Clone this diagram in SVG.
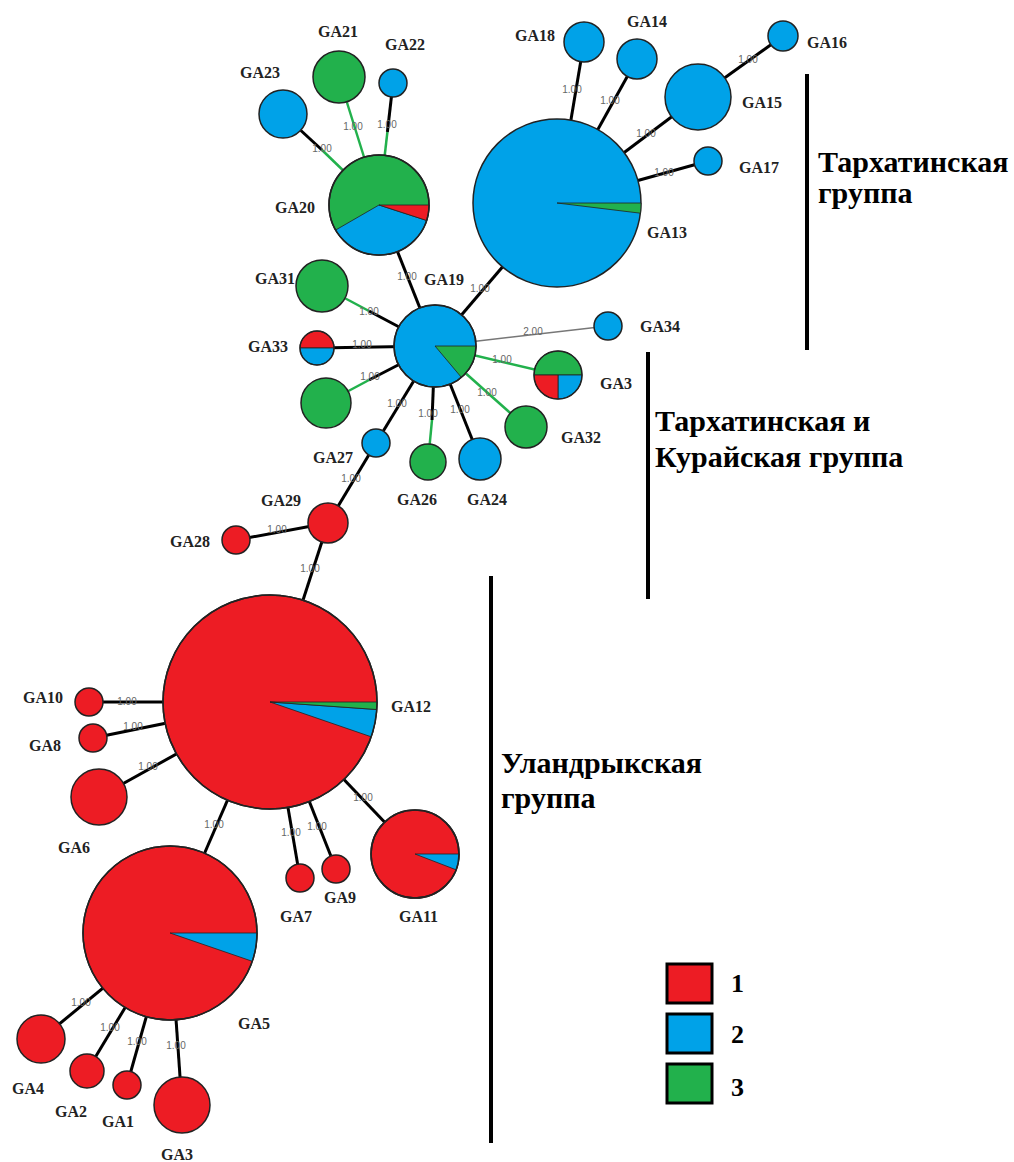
<svg xmlns="http://www.w3.org/2000/svg" width="1014" height="1162" viewBox="0 0 1014 1162">
<style>
.e{stroke:#000;stroke-width:3;fill:none}
.g{stroke:#22b14c;stroke-width:2.5;fill:none}
.t{stroke:#777;stroke-width:1.5;fill:none}
.el{font-family:"Liberation Sans",Arial,sans-serif;font-size:10px;fill:#666;text-anchor:middle}
.nl{font-family:"Liberation Serif","Times New Roman",serif;font-size:16px;font-weight:bold;fill:#222}
.gt{font-family:"Liberation Serif","Times New Roman",serif;font-size:30px;font-weight:bold;fill:#000}
.lg{font-family:"Liberation Serif","Times New Roman",serif;font-size:26px;font-weight:bold;fill:#000}
.r{fill:#ed1c24}.b{fill:#00a2e8}.gr{fill:#22b14c}
.o{stroke:#222;stroke-width:1.5}
.w{stroke:#222;stroke-width:0.8}
.bar{stroke:#000;stroke-width:4}
</style>
<rect width="1014" height="1162" fill="#fff"/>
<g id="connectors">
<line class="e" x1="557" y1="203" x2="584" y2="42"/>
<line class="e" x1="557" y1="203" x2="637" y2="59"/>
<line class="e" x1="557" y1="203" x2="698" y2="97"/>
<line class="e" x1="557" y1="203" x2="708" y2="161"/>
<line class="e" x1="698" y1="97" x2="783" y2="36"/>
<line class="e" x1="435" y1="346" x2="557" y2="203"/>
<line class="e" x1="435" y1="346" x2="379" y2="205"/>
<line class="g" x1="379" y1="205" x2="322" y2="150"/>
<line class="e" x1="322" y1="150" x2="283" y2="114"/>
<line class="g" x1="379" y1="205" x2="339" y2="77"/>
<line class="g" x1="379" y1="205" x2="387.4" y2="132"/>
<line class="e" x1="387.4" y1="132" x2="393" y2="83"/>
<line class="e" x1="435" y1="346" x2="369" y2="311"/>
<line class="g" x1="369" y1="311" x2="322" y2="286"/>
<line class="e" x1="435" y1="346" x2="317" y2="348"/>
<line class="e" x1="435" y1="346" x2="369" y2="380"/>
<line class="g" x1="369" y1="380" x2="326" y2="403"/>
<line class="e" x1="435" y1="346" x2="376" y2="443"/>
<line class="e" x1="435" y1="346" x2="432" y2="420"/>
<line class="g" x1="432" y1="420" x2="428" y2="462"/>
<line class="e" x1="435" y1="346" x2="480" y2="459"/>
<line class="g" x1="435" y1="346" x2="526" y2="427"/>
<line class="g" x1="435" y1="346" x2="558" y2="375"/>
<line class="t" x1="435" y1="346" x2="608" y2="326"/>
<line class="e" x1="376" y1="443" x2="328" y2="523"/>
<line class="e" x1="328" y1="523" x2="236" y2="540"/>
<line class="e" x1="328" y1="523" x2="270" y2="702"/>
<line class="e" x1="270" y1="702" x2="89" y2="702"/>
<line class="e" x1="270" y1="702" x2="93" y2="738"/>
<line class="e" x1="270" y1="702" x2="99" y2="797"/>
<line class="e" x1="270" y1="702" x2="170" y2="933"/>
<line class="e" x1="270" y1="702" x2="300" y2="878"/>
<line class="e" x1="270" y1="702" x2="336" y2="869"/>
<line class="e" x1="270" y1="702" x2="415" y2="854"/>
<line class="e" x1="170" y1="933" x2="41" y2="1039"/>
<line class="e" x1="170" y1="933" x2="87" y2="1071"/>
<line class="e" x1="170" y1="933" x2="127" y2="1085"/>
<line class="e" x1="170" y1="933" x2="182" y2="1105"/>
<g id="edge-labels">
<text class="el" x="572" y="93">1.00</text>
<text class="el" x="610" y="104">1.00</text>
<text class="el" x="646" y="137">1.00</text>
<text class="el" x="664" y="176">1.00</text>
<text class="el" x="748" y="63">1.00</text>
<text class="el" x="322" y="152">1.00</text>
<text class="el" x="353" y="130">1.00</text>
<text class="el" x="387" y="128">1.00</text>
<text class="el" x="407" y="280">1.00</text>
<text class="el" x="480" y="292">1.00</text>
<text class="el" x="369" y="315">1.00</text>
<text class="el" x="362" y="348">1.00</text>
<text class="el" x="370" y="380">1.00</text>
<text class="el" x="397" y="407">1.00</text>
<text class="el" x="428" y="417">1.00</text>
<text class="el" x="460" y="413">1.00</text>
<text class="el" x="487" y="396">1.00</text>
<text class="el" x="502" y="363">1.00</text>
<text class="el" x="533" y="335">2.00</text>
<text class="el" x="351" y="482">1.00</text>
<text class="el" x="277" y="533">1.00</text>
<text class="el" x="310" y="572">1.00</text>
<text class="el" x="127" y="705">1.00</text>
<text class="el" x="133" y="730">1.00</text>
<text class="el" x="148" y="770">1.00</text>
<text class="el" x="214" y="828">1.00</text>
<text class="el" x="291" y="836">1.00</text>
<text class="el" x="317" y="830">1.00</text>
<text class="el" x="363" y="801">1.00</text>
<text class="el" x="81" y="1006">1.00</text>
<text class="el" x="110" y="1031">1.00</text>
<text class="el" x="137" y="1045">1.00</text>
<text class="el" x="176" y="1049">1.00</text>
</g>
</g>
<g id="GA13"><circle class="b o" cx="557" cy="203" r="84"/><path class="gr w" d="M557,203 L641,203 A84,84 0 0 1 640.4,213.2 Z"/><text class="nl" x="647" y="238">GA13</text></g>
<g id="GA18"><circle class="b o" cx="584" cy="42" r="20"/><text class="nl" x="515" y="41">GA18</text></g>
<g id="GA14"><circle class="b o" cx="637" cy="59" r="20"/><text class="nl" x="627" y="27">GA14</text></g>
<g id="GA15"><circle class="b o" cx="698" cy="97" r="33"/><text class="nl" x="742" y="108">GA15</text></g>
<g id="GA16"><circle class="b o" cx="783" cy="36" r="15"/><text class="nl" x="807" y="48">GA16</text></g>
<g id="GA17"><circle class="b o" cx="708" cy="161" r="14"/><text class="nl" x="739" y="173">GA17</text></g>
<g id="GA20"><circle class="gr o" cx="379" cy="205" r="50"/><path class="b w" d="M379,205 L426.55,220.45 A50,50 0 0 1 335.7,230 Z"/><path class="r w" d="M379,205 L429,205 A50,50 0 0 1 426.55,220.45 Z"/><circle cx="379" cy="205" r="50" fill="none" class="o"/><text class="nl" x="275" y="213">GA20</text></g>
<g id="GA21"><circle class="gr o" cx="339" cy="77" r="26"/><text class="nl" x="318" y="37">GA21</text></g>
<g id="GA22"><circle class="b o" cx="393" cy="83" r="14"/><text class="nl" x="385" y="50">GA22</text></g>
<g id="GA23"><circle class="b o" cx="283" cy="114" r="24"/><text class="nl" x="240" y="78">GA23</text></g>
<g id="GA19"><circle class="b o" cx="435" cy="346" r="41"/><path class="gr w" d="M435,346 L476,346 A41,41 0 0 1 461.4,377.4 Z"/><circle cx="435" cy="346" r="41" fill="none" class="o"/><text class="nl" x="424" y="285">GA19</text></g>
<g id="GA31"><circle class="gr o" cx="322" cy="286" r="26"/><text class="nl" x="255" y="284">GA31</text></g>
<g id="GA33"><path class="r w" d="M300,348 A17,17 0 0 1 334,348 Z"/><path class="b w" d="M334,348 A17,17 0 0 1 300,348 Z"/><circle cx="317" cy="348" r="17" fill="none" class="o"/><text class="nl" x="248" y="352">GA33</text></g>
<g id="GA30"><circle class="gr o" cx="326" cy="403" r="25"/></g>
<g id="GA27"><circle class="b o" cx="376" cy="443" r="14"/><text class="nl" x="313" y="463">GA27</text></g>
<g id="GA26"><circle class="gr o" cx="428" cy="462" r="18"/><text class="nl" x="397" y="505">GA26</text></g>
<g id="GA24"><circle class="b o" cx="480" cy="459" r="21"/><text class="nl" x="467" y="505">GA24</text></g>
<g id="GA32"><circle class="gr o" cx="526" cy="427" r="21"/><text class="nl" x="561" y="443">GA32</text></g>
<g id="GA3-upper"><path class="gr w" d="M534,375 A24,24 0 0 1 582,375 Z"/><path class="b w" d="M558,375 L582,375 A24,24 0 0 1 558,399 Z"/><path class="r w" d="M558,375 L558,399 A24,24 0 0 1 534,375 Z"/><circle cx="558" cy="375" r="24" fill="none" class="o"/><text class="nl" x="600" y="389">GA3</text></g>
<g id="GA34"><circle class="b o" cx="608" cy="326" r="14"/><text class="nl" x="640" y="332">GA34</text></g>
<g id="GA29"><circle class="r o" cx="328" cy="523" r="20"/><text class="nl" x="261" y="506">GA29</text></g>
<g id="GA28"><circle class="r o" cx="236" cy="540" r="14"/><text class="nl" x="170" y="547">GA28</text></g>
<g id="GA12"><circle class="r o" cx="270" cy="702" r="107"/><path class="b w" d="M270,702 L376.7,709.5 A107,107 0 0 1 371.2,736.8 Z"/><path class="gr w" d="M270,702 L377,702 A107,107 0 0 1 376.7,709.5 Z"/><circle cx="270" cy="702" r="107" fill="none" class="o"/><text class="nl" x="391" y="712">GA12</text></g>
<g id="GA10"><circle class="r o" cx="89" cy="702" r="14"/><text class="nl" x="23" y="703">GA10</text></g>
<g id="GA8"><circle class="r o" cx="93" cy="738" r="14"/><text class="nl" x="29" y="751">GA8</text></g>
<g id="GA6"><circle class="r o" cx="99" cy="797" r="28"/><text class="nl" x="58" y="853">GA6</text></g>
<g id="GA7"><circle class="r o" cx="300" cy="878" r="14"/><text class="nl" x="280" y="922">GA7</text></g>
<g id="GA9"><circle class="r o" cx="336" cy="869" r="14"/><text class="nl" x="324" y="903">GA9</text></g>
<g id="GA11"><circle class="r o" cx="415" cy="854" r="44"/><path class="b w" d="M415,854 L459,854 A44,44 0 0 1 456.1,869.8 Z"/><circle cx="415" cy="854" r="44" fill="none" class="o"/><text class="nl" x="399" y="922">GA11</text></g>
<g id="GA5"><circle class="r o" cx="170" cy="933" r="87"/><path class="b w" d="M170,933 L257,933 A87,87 0 0 1 252.3,961.3 Z"/><circle cx="170" cy="933" r="87" fill="none" class="o"/><text class="nl" x="238" y="1029">GA5</text></g>
<g id="GA4"><circle class="r o" cx="41" cy="1039" r="24"/><text class="nl" x="12" y="1094">GA4</text></g>
<g id="GA2"><circle class="r o" cx="87" cy="1071" r="17"/><text class="nl" x="55" y="1117">GA2</text></g>
<g id="GA1"><circle class="r o" cx="127" cy="1085" r="14"/><text class="nl" x="102" y="1127">GA1</text></g>
<g id="GA3-lower"><circle class="r o" cx="182" cy="1105" r="28"/><text class="nl" x="161" y="1160">GA3</text></g>
<g id="group-tarkhata"><line class="bar" x1="807" y1="74" x2="807" y2="350"/><text class="gt" x="818" y="172">Тархатинская</text><text class="gt" x="818" y="203">группа</text></g>
<g id="group-tarkhata-kurai"><line class="bar" x1="648" y1="352" x2="648" y2="599"/><text class="gt" x="655" y="431">Тархатинская и</text><text class="gt" x="655" y="467">Курайская группа</text></g>
<g id="group-ulandryk"><line class="bar" x1="491" y1="576" x2="491" y2="1143"/><text class="gt" x="501" y="773">Уландрыкская</text><text class="gt" x="501" y="808">группа</text></g>
<g id="legend">
<rect x="667" y="964" width="45" height="39" class="r" stroke="#000" stroke-width="3"/>
<rect x="667" y="1014" width="45" height="39" class="b" stroke="#000" stroke-width="3"/>
<rect x="667" y="1064" width="45" height="39" class="gr" stroke="#000" stroke-width="3"/>
<text class="lg" x="731" y="992">1</text>
<text class="lg" x="731" y="1043">2</text>
<text class="lg" x="731" y="1096">3</text>
</g>
</svg>
